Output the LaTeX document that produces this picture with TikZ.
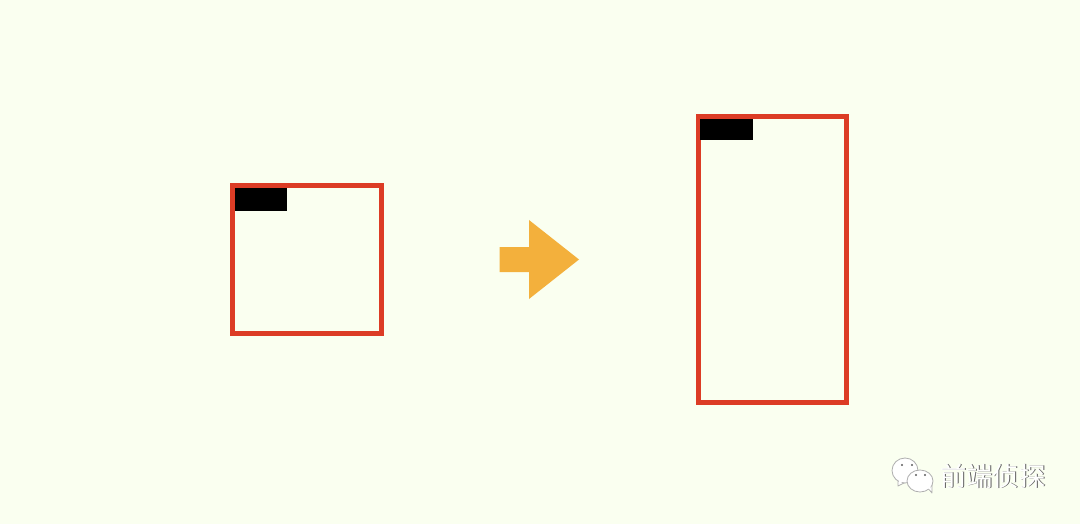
\documentclass[tikz,border=0pt]{standalone}
\usepackage{fontspec}
\newfontfamily\cjk{Noto Sans CJK SC}
\definecolor{bgc}{HTML}{FAFFF0}
\definecolor{redc}{HTML}{DC3C25}
\definecolor{arrowc}{HTML}{F3B03C}
\definecolor{shadowc}{HTML}{5E5E5E}
\tikzset{
  frame/.style={draw=redc,line width=5.2pt,fill=none},
  tab/.style={fill=black,draw=none},
  bubble/.style={fill=white,draw=shadowc!50,line width=0.8pt,line join=round},
  eye/.style={fill=shadowc,draw=none},
  mark text/.style={inner sep=0pt,anchor=west,font=\cjk\fontsize{26.3}{26.3}\selectfont}
}
\begin{document}
\begin{tikzpicture}[x=1pt,y=-1pt]
\useasboundingbox (0,0) rectangle (1080,524);
\fill[bgc] (0,0) rectangle (1080,524);
% left box
\draw[frame] (232.5,185.5) rectangle (381.5,333.5);
\fill[tab] (235,188) rectangle (287.2,211);
% right box
\draw[frame] (698.2,116.5) rectangle (846.5,402.5);
\fill[tab] (700.3,119) rectangle (753,140);
% arrow
\fill[arrowc] (499.5,247) -- (529,247) -- (529,220) -- (579,259.5) -- (529,299) -- (529,272) -- (499.5,272) -- cycle;
% chat icon
\draw[bubble] (898,479) -- (898,486) -- (906,482) -- cycle;
\draw[bubble] (905,470.5) circle[x radius=13,y radius=12.5];
\fill[white] (899,477) -- (899,484) -- (906,480) -- (906,474) -- cycle;
\fill[eye] (902,465) circle[radius=1.2];
\fill[eye] (912,465) circle[radius=1.2];
\draw[bubble] (927,487) -- (932,493) -- (932,483) -- cycle;
\draw[bubble] (920,481) circle[x radius=13,y radius=11];
\fill[white] (925,486) -- (930.5,490) -- (930.5,482) -- cycle;
\fill[eye] (916,475) circle[radius=1.2];
\fill[eye] (925,475) circle[radius=1.2];
% watermark text
\node[mark text,text=shadowc] (wms) at (940.9,476.9) {前端侦探};
\node[mark text,text=white] (wm) at (940,476) {前端侦探};
\end{tikzpicture}
\end{document}
